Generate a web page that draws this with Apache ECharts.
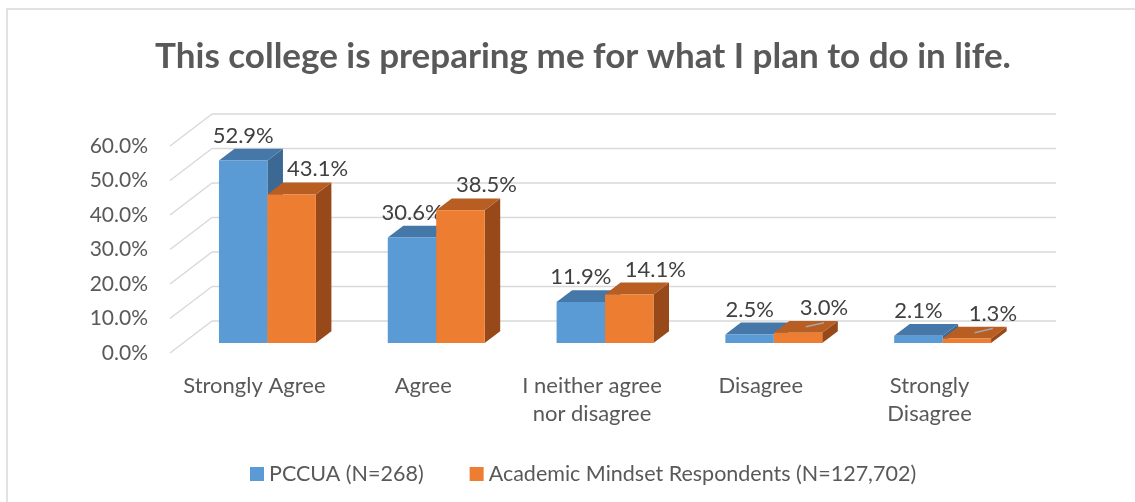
<!DOCTYPE html>
<html>
<head>
<meta charset="utf-8">
<script src="https://cdn.jsdelivr.net/npm/echarts@6/dist/echarts.min.js"></script>
<style>
  html, body { margin: 0; padding: 0; background: #fff; }
  #chart { width: 1135px; height: 502px; }
</style>
</head>
<body>
<div id="chart"></div>
<script>
// data
var categories = ['Strongly Agree', 'Agree', 'I neither agree\nnor disagree', 'Disagree', 'Strongly\nDisagree'];
var pccua = [52.9, 30.6, 11.9, 2.5, 2.1];
var mindset = [43.1, 38.5, 14.1, 3.0, 1.3];
var yTicks = [0, 10, 20, 30, 40, 50, 60];
var seriesNames = ['PCCUA (N=268)', 'Academic Mindset Respondents (N=127,702)'];

// fake 3d look
var WALL = [42, -32];   // front plane -> back wall
var F0 = 0.31;          // where bars start in depth
var FD = 0.37;          // bar depth
var BAR_FRAC = 0.287;   // one bar width / category width

var blue = { front: '#5b9bd5', top: '#4577a8', side: '#3b6993' };
var orange = { front: '#ed7d31', top: '#b85e22', side: '#97491a' };

var chart = echarts.init(document.getElementById('chart'));

function gridRender(params, api) {
  var cs = params.coordSys;
  var p = api.coord([0, api.value(1)]);
  var xl = cs.x, xr = cs.x + cs.width, y = p[1];
  var st = { stroke: '#d9d9d9', lineWidth: 1.5 };
  return {
    type: 'group',
    children: [
      { type: 'line', shape: { x1: xl, y1: y, x2: xl + WALL[0], y2: y + WALL[1] }, style: st },
      { type: 'line', shape: { x1: xl + WALL[0], y1: y + WALL[1], x2: xr + WALL[0], y2: y + WALL[1] }, style: st }
    ]
  };
}

function barRender(side, col, labelDx) {
  return function (params, api) {
    var i = api.value(0), v = api.value(1);
    var top = api.coord([i, v]), base = api.coord([i, 0]);
    var w = api.size([1, 0])[0] * BAR_FRAC;
    var sx = WALL[0] * F0, sy = WALL[1] * F0;
    var dx = WALL[0] * FD, dy = WALL[1] * FD;
    var x0 = top[0] + side * w + sx, x1 = x0 + w;
    var yT = top[1] + sy, yB = base[1] + sy;
    var lx = (x0 + x1) / 2 + labelDx, ly = yT - 25;
    var kids = [
      { type: 'polygon', shape: { points: [[x1, yT], [x1 + dx, yT + dy], [x1 + dx, yB + dy], [x1, yB]] }, style: { fill: col.side } },
      { type: 'polygon', shape: { points: [[x0, yT], [x0 + dx, yT + dy], [x1 + dx, yT + dy], [x1, yT]] }, style: { fill: col.top } },
      { type: 'rect', shape: { x: x0, y: yT, width: w, height: yB - yT }, style: { fill: col.front } },
      { type: 'text', style: { text: v.toFixed(1) + '%', x: lx, y: ly, align: 'center', verticalAlign: 'middle',
          fill: '#404040', font: '22px Lato' } }
    ];
    if (labelDx && v < 5) {
      kids.push({ type: 'line', shape: { x1: lx, y1: ly + 15, x2: (x0 + x1) / 2 + dx / 2, y2: yT + dy / 2 },
        style: { stroke: '#a6a6a6', lineWidth: 1.5 } });
    }
    return { type: 'group', children: kids };
  };
}

var option = {
  animation: false,
  title: {
    text: 'This college is preparing me for what I plan to do in life.',
    left: 578, top: 34, textAlign: 'center',
    textStyle: { fontFamily: 'Lato', fontSize: 35, fontWeight: 'bold', color: '#595959' }
  },
  graphic: [{
    type: 'rect', shape: { x: 7, y: 9, width: 1400, height: 800 },
    style: { fill: 'none', stroke: '#d9d9d9', lineWidth: 1.5 }, silent: true, z: -10
  }],
  legend: {
    data: seriesNames,
    left: 245, top: 458,
    itemWidth: 14, itemHeight: 14, itemGap: 46,
    icon: 'rect',
    textStyle: { fontFamily: 'Lato', fontSize: 21.5, color: '#595959' }
  },
  grid: { left: 170, right: 121, top: 146, bottom: 149 },
  xAxis: {
    type: 'category',
    data: categories,
    axisLine: { show: false },
    axisTick: { show: false },
    axisLabel: { margin: 19, fontFamily: 'Lato', fontSize: 22, color: '#595959', lineHeight: 28, interval: 0 }
  },
  yAxis: {
    type: 'value', min: 0, max: 60, interval: 10,
    axisLine: { show: false }, axisTick: { show: false },
    splitLine: { show: false },
    axisLabel: { margin: 22, fontFamily: 'Lato', fontSize: 21, color: '#595959',
      formatter: function (v) { return v.toFixed(1) + '%'; } }
  },
  series: [
    { type: 'custom', name: 'grid', renderItem: gridRender, silent: true, z: 1,
      data: yTicks.map(function (t) { return [0, t]; }) },
    { type: 'custom', name: seriesNames[0], renderItem: barRender(-1, blue, 0), z: 2,
      itemStyle: { color: blue.front },
      data: pccua.map(function (v, i) { return [i, v]; }) },
    { type: 'custom', name: seriesNames[1], renderItem: barRender(0, orange, 26), z: 3,
      itemStyle: { color: orange.front },
      data: mindset.map(function (v, i) { return [i, v]; }) }
  ]
};

chart.setOption(option);
</script>
</body>
</html>
